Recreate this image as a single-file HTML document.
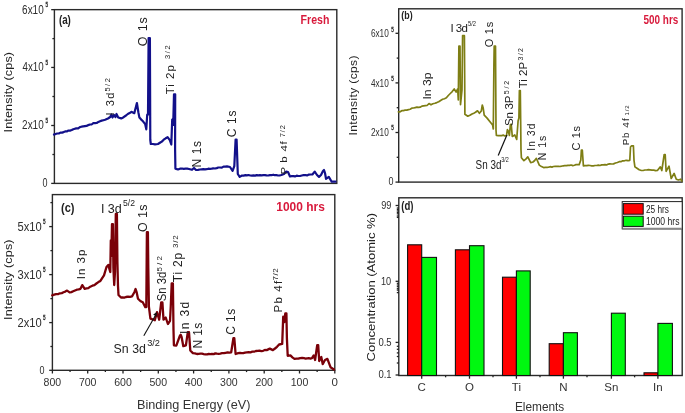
<!DOCTYPE html>
<html><head><meta charset="utf-8"><style>
html,body{margin:0;padding:0;background:#fff;width:685px;height:413px;overflow:hidden;}
svg{display:block;filter:blur(0.35px);}
text{font-family:"Liberation Sans", sans-serif;}
</style></head><body>
<svg width="685" height="413" viewBox="0 0 685 413">
<rect width="685" height="413" fill="#fff"/>
<rect x="54.40" y="9.65" width="282.40" height="173.75" fill="none" stroke="#2a2a2a" stroke-width="1.40"/>
<line x1="51.20" y1="9.65" x2="54.40" y2="9.65" stroke="#222" stroke-width="1.30"/>
<line x1="51.20" y1="67.45" x2="54.40" y2="67.45" stroke="#222" stroke-width="1.30"/>
<line x1="51.20" y1="125.50" x2="54.40" y2="125.50" stroke="#222" stroke-width="1.30"/>
<line x1="51.20" y1="183.40" x2="54.40" y2="183.40" stroke="#222" stroke-width="1.30"/>
<line x1="52.40" y1="38.60" x2="54.40" y2="38.60" stroke="#222" stroke-width="1.30"/>
<line x1="52.40" y1="96.50" x2="54.40" y2="96.50" stroke="#222" stroke-width="1.30"/>
<line x1="52.40" y1="154.50" x2="54.40" y2="154.50" stroke="#222" stroke-width="1.30"/>
<text x="22.10" y="13.60" font-size="13.00" text-anchor="start" fill="#2e2e2e" font-weight="normal" textLength="21.6" lengthAdjust="spacingAndGlyphs" >6x10</text>
<text x="45.60" y="6.90" font-size="7.00" text-anchor="start" fill="#222" font-weight="normal" textLength="2.6" lengthAdjust="spacingAndGlyphs" stroke="#222" stroke-width="0.3">5</text>
<text x="22.50" y="71.30" font-size="13.00" text-anchor="start" fill="#2e2e2e" font-weight="normal" textLength="21.2" lengthAdjust="spacingAndGlyphs" >4x10</text>
<text x="45.60" y="65.10" font-size="7.00" text-anchor="start" fill="#222" font-weight="normal" textLength="2.6" lengthAdjust="spacingAndGlyphs" stroke="#222" stroke-width="0.3">5</text>
<text x="22.10" y="129.40" font-size="13.00" text-anchor="start" fill="#2e2e2e" font-weight="normal" textLength="21.6" lengthAdjust="spacingAndGlyphs" >2x10</text>
<text x="45.60" y="123.20" font-size="7.00" text-anchor="start" fill="#222" font-weight="normal" textLength="2.6" lengthAdjust="spacingAndGlyphs" stroke="#222" stroke-width="0.3">5</text>
<text x="47.40" y="186.60" font-size="12.80" text-anchor="end" fill="#2e2e2e" font-weight="normal" textLength="5.0" lengthAdjust="spacingAndGlyphs" >0</text>
<text transform="translate(11.60 132.50) rotate(-90) scale(1 0.850)" x="0" y="0" font-size="12.50" fill="#222" textLength="80.5" lengthAdjust="spacing">Intensity (cps)</text>
<text x="58.90" y="23.50" font-size="13.00" text-anchor="start" fill="#222" font-weight="bold" textLength="12.0" lengthAdjust="spacingAndGlyphs" >(a)</text>
<text x="300.60" y="23.80" font-size="13.50" text-anchor="start" fill="#d81a3c" font-weight="bold" textLength="28.8" lengthAdjust="spacingAndGlyphs" >Fresh</text>
<path d="M54.0 134.6 L55.6 134.0 L57.2 133.5 L58.8 133.5 L60.4 132.6 L62.0 132.6 L63.6 132.1 L65.2 131.4 L66.8 131.4 L68.4 130.6 L70.0 130.6 L71.7 130.0 L73.3 129.2 L75.0 128.7 L76.6 128.4 L78.2 128.3 L79.9 127.1 L81.5 126.7 L83.2 126.4 L84.9 126.1 L86.6 125.9 L88.3 125.1 L89.9 124.5 L91.6 124.5 L93.3 123.2 L95.0 123.2 L96.7 123.0 L98.4 121.9 L100.0 121.2 L101.7 120.6 L103.4 120.2 L105.1 119.8 L108.0 118.5 L110.2 117.0 L111.5 114.5 L112.5 117.5 L114.0 115.0 L115.5 117.0 L116.5 114.0 L118.2 117.5 L121.2 118.4 L123.6 117.2 L126.0 115.5 L127.8 114.0 L129.6 113.1 L131.4 111.8 L134.3 113.2 L136.9 103.0 L138.4 112.5 L139.4 117.6 L141.2 119.6 L143.0 121.3 L145.2 124.2 L146.3 129.3 L147.2 114.7 L148.0 114.7 L148.6 38.0 L149.9 38.0 L150.3 140.0 L150.8 144.0 L152.9 144.0 L155.0 144.3 L158.0 144.0 L159.9 142.8 L161.8 141.6 L163.7 139.7 L165.7 138.3 L167.6 137.2 L169.8 140.1 L171.3 144.5 L172.2 119.6 L173.2 125.0 L174.0 94.3 L175.2 94.3 L175.1 150.0 L175.4 168.6 L178.0 169.5 L180.0 168.7 L182.0 168.5 L183.8 168.8 L185.5 168.7 L187.2 168.7 L189.0 169.0 L192.0 169.8 L194.0 168.0 L196.0 170.0 L198.0 169.8 L200.0 169.5 L201.7 169.3 L203.3 169.1 L205.0 169.4 L206.7 169.2 L208.3 168.7 L210.0 168.8 L211.7 168.7 L213.3 168.4 L215.0 168.5 L216.7 168.1 L218.3 167.5 L220.0 167.5 L221.8 167.7 L223.5 166.6 L225.2 166.6 L227.0 166.4 L230.0 167.0 L232.6 170.8 L234.3 166.2 L235.6 139.5 L236.6 139.5 L237.8 174.0 L239.7 176.9 L242.0 175.5 L243.6 175.7 L245.3 175.1 L246.9 175.4 L248.5 175.0 L250.2 175.5 L251.8 175.6 L253.5 175.4 L255.1 175.6 L256.7 175.1 L258.4 175.4 L260.0 175.2 L261.6 175.3 L263.3 175.2 L264.9 175.1 L266.6 175.4 L268.2 175.5 L269.9 175.1 L271.5 175.2 L273.2 174.7 L274.8 175.2 L276.5 175.2 L278.1 175.5 L279.8 175.3 L281.4 175.0 L284.0 174.0 L286.2 171.6 L288.0 172.0 L290.0 176.5 L291.7 176.2 L293.3 176.2 L295.0 176.4 L296.7 175.7 L298.3 176.0 L300.0 176.0 L301.8 175.5 L303.5 175.2 L305.3 175.0 L307.1 175.4 L308.9 174.6 L310.6 174.5 L312.4 174.5 L314.7 171.6 L317.0 175.0 L319.0 176.9 L321.0 175.0 L323.0 171.0 L324.0 170.0 L325.0 173.0 L326.0 178.8 L328.8 176.9 L331.7 181.7 L333.6 181.6 L335.5 181.7" fill="none" stroke="#12108a" stroke-width="2.20" stroke-linejoin="round" stroke-linecap="round" />
<text transform="translate(114.00 115.50) rotate(-90)" x="0" y="0" font-size="11.00" fill="#222" textLength="23.0" lengthAdjust="spacing">I 3d</text>
<text transform="translate(109.80 91.60) rotate(-90)" x="0" y="0" font-size="7.50" fill="#222" textLength="13.5" lengthAdjust="spacing">5/2</text>
<text transform="translate(146.50 46.20) rotate(-90)" x="0" y="0" font-size="12.50" fill="#222" textLength="29.0" lengthAdjust="spacing">O 1s</text>
<text transform="translate(174.30 94.30) rotate(-90)" x="0" y="0" font-size="11.50" fill="#222" textLength="29.2" lengthAdjust="spacing">Ti 2p</text>
<text transform="translate(169.50 59.00) rotate(-90)" x="0" y="0" font-size="7.50" fill="#222" textLength="13.8" lengthAdjust="spacing">3/2</text>
<text transform="translate(200.60 167.40) rotate(-90)" x="0" y="0" font-size="12.00" fill="#222" textLength="26.5" lengthAdjust="spacing">N 1s</text>
<text transform="translate(236.20 137.30) rotate(-90)" x="0" y="0" font-size="12.00" fill="#222" textLength="26.8" lengthAdjust="spacing">C 1s</text>
<text transform="translate(287.20 174.60) rotate(-90) scale(1 0.800)" x="0" y="0" font-size="11.50" fill="#222">P</text>
<text transform="translate(287.20 162.80) rotate(-90) scale(1 0.800)" x="0" y="0" font-size="11.50" fill="#222">b</text>
<text transform="translate(287.20 151.60) rotate(-90) scale(1 0.800)" x="0" y="0" font-size="11.50" fill="#222">4</text>
<text transform="translate(287.20 144.40) rotate(-90) scale(1 0.800)" x="0" y="0" font-size="11.50" fill="#222">f</text>
<text transform="translate(284.50 137.20) rotate(-90)" x="0" y="0" font-size="7.50" fill="#222" textLength="12.0" lengthAdjust="spacing">7/2</text>
<rect x="398.70" y="8.80" width="283.40" height="173.30" fill="none" stroke="#2a2a2a" stroke-width="1.40"/>
<line x1="395.50" y1="33.30" x2="398.70" y2="33.30" stroke="#222" stroke-width="1.30"/>
<line x1="395.50" y1="82.90" x2="398.70" y2="82.90" stroke="#222" stroke-width="1.30"/>
<line x1="395.50" y1="132.50" x2="398.70" y2="132.50" stroke="#222" stroke-width="1.30"/>
<line x1="395.50" y1="182.10" x2="398.70" y2="182.10" stroke="#222" stroke-width="1.30"/>
<line x1="396.70" y1="58.10" x2="398.70" y2="58.10" stroke="#222" stroke-width="1.30"/>
<line x1="396.70" y1="107.70" x2="398.70" y2="107.70" stroke="#222" stroke-width="1.30"/>
<line x1="396.70" y1="157.30" x2="398.70" y2="157.30" stroke="#222" stroke-width="1.30"/>
<text x="370.90" y="37.20" font-size="11.20" text-anchor="start" fill="#2e2e2e" font-weight="normal" textLength="17.9" lengthAdjust="spacingAndGlyphs" >6x10</text>
<text x="391.20" y="31.70" font-size="6.50" text-anchor="start" fill="#222" font-weight="normal" textLength="2.6" lengthAdjust="spacingAndGlyphs" stroke="#222" stroke-width="0.3">5</text>
<text x="370.90" y="86.50" font-size="11.20" text-anchor="start" fill="#2e2e2e" font-weight="normal" textLength="17.9" lengthAdjust="spacingAndGlyphs" >4x10</text>
<text x="391.20" y="81.00" font-size="6.50" text-anchor="start" fill="#222" font-weight="normal" textLength="2.6" lengthAdjust="spacingAndGlyphs" stroke="#222" stroke-width="0.3">5</text>
<text x="370.90" y="135.90" font-size="11.20" text-anchor="start" fill="#2e2e2e" font-weight="normal" textLength="17.9" lengthAdjust="spacingAndGlyphs" >2x10</text>
<text x="391.20" y="130.40" font-size="6.50" text-anchor="start" fill="#222" font-weight="normal" textLength="2.6" lengthAdjust="spacingAndGlyphs" stroke="#222" stroke-width="0.3">5</text>
<text x="393.40" y="184.50" font-size="11.50" text-anchor="end" fill="#2e2e2e" font-weight="normal" textLength="5.0" lengthAdjust="spacingAndGlyphs" >0</text>
<text transform="translate(357.40 135.50) rotate(-90) scale(1 0.850)" x="0" y="0" font-size="12.00" fill="#222" textLength="80.0" lengthAdjust="spacing">Intensity (cps)</text>
<text x="401.30" y="18.90" font-size="11.80" text-anchor="start" fill="#222" font-weight="bold" textLength="11.3" lengthAdjust="spacingAndGlyphs" >(b)</text>
<text x="643.50" y="23.90" font-size="13.00" text-anchor="start" fill="#d81a3c" font-weight="bold" textLength="34.8" lengthAdjust="spacingAndGlyphs" >500 hrs</text>
<path d="M398.4 111.9 L400.1 111.8 L401.8 110.7 L403.4 110.6 L405.1 110.2 L406.8 110.1 L408.5 109.6 L410.1 109.2 L411.8 108.2 L413.5 108.0 L415.2 107.6 L416.9 107.2 L418.6 107.4 L420.2 107.2 L421.9 106.1 L423.6 105.8 L425.3 105.6 L427.0 105.5 L429.0 103.6 L431.0 104.8 L432.9 103.8 L434.9 103.3 L436.8 102.6 L438.7 101.7 L440.6 100.5 L442.6 99.3 L444.5 98.7 L446.4 97.8 L448.3 95.5 L450.3 93.5 L452.2 91.6 L454.2 89.0 L456.1 92.0 L457.7 89.0 L458.3 100.0 L458.9 46.2 L460.0 46.2 L460.5 104.6 L462.0 90.0 L462.6 35.7 L464.4 35.7 L464.9 114.3 L467.8 116.2 L469.9 115.3 L472.0 114.0 L473.8 113.2 L475.5 112.3 L477.5 110.8 L479.4 113.3 L481.3 111.0 L482.3 105.0 L483.2 108.0 L484.2 115.2 L487.1 118.1 L491.0 123.0 L492.6 125.0 L493.3 129.0 L493.9 66.0 L494.2 46.2 L495.5 46.2 L496.0 130.0 L496.4 135.5 L498.2 135.6 L500.0 135.5 L501.6 135.7 L503.2 135.1 L504.9 135.9 L506.5 135.5 L507.4 129.7 L508.3 131.0 L509.4 135.5 L510.4 124.7 L511.2 124.2 L512.3 136.5 L514.8 135.0 L516.7 139.4 L518.1 121.0 L518.9 118.0 L519.4 90.5 L520.3 90.5 L521.0 150.0 L521.4 157.8 L523.9 160.7 L525.8 159.1 L527.8 156.9 L530.7 162.7 L533.0 162.0 L534.7 160.5 L536.4 158.3 L539.3 165.1 L541.5 166.6 L543.6 167.6 L545.3 167.4 L547.0 167.3 L548.6 167.1 L550.2 166.7 L551.9 167.1 L553.5 166.5 L555.1 166.4 L556.8 166.4 L558.4 166.3 L560.0 166.5 L561.6 166.2 L563.2 165.8 L564.8 165.6 L566.4 165.6 L568.0 165.3 L569.6 165.4 L571.2 165.0 L572.8 165.6 L574.4 165.2 L576.0 164.6 L577.6 164.5 L579.2 164.6 L580.8 160.0 L581.4 150.0 L582.3 150.0 L583.4 165.9 L585.0 165.7 L586.7 165.6 L588.4 165.3 L590.0 165.5 L591.7 165.8 L593.3 165.9 L595.0 165.5 L596.7 165.5 L598.3 165.1 L600.0 165.5 L601.7 164.9 L603.3 164.9 L605.0 164.6 L606.6 164.9 L608.3 164.1 L609.9 163.8 L611.6 164.0 L613.5 163.9 L615.5 163.0 L617.4 162.5 L619.2 161.7 L620.9 161.7 L622.7 160.8 L624.4 160.8 L626.2 160.3 L628.0 160.7 L629.8 160.3 L630.5 147.0 L631.6 145.8 L633.4 145.8 L634.0 160.3 L634.9 166.9 L637.0 168.3 L639.2 169.7 L641.4 170.5 L643.1 170.5 L644.9 170.0 L646.6 170.0 L648.4 169.6 L650.1 169.8 L651.9 170.2 L653.8 170.2 L655.6 170.6 L657.4 170.5 L660.3 166.9 L661.8 170.5 L664.2 154.5 L665.2 154.5 L666.1 171.3 L669.0 166.2 L671.2 178.5 L674.1 173.4 L676.3 179.2 L678.5 180.0 L680.7 179.2 L681.8 181.0" fill="none" stroke="#7e7e14" stroke-width="1.70" stroke-linejoin="round" stroke-linecap="round" />
<text x="450.5" y="32.4" font-size="11.5" fill="#222" textLength="17.5" lengthAdjust="spacing">I 3d</text>
<text x="468.00" y="26.00" font-size="7.00" text-anchor="start" fill="#222" font-weight="normal" textLength="8.0" lengthAdjust="spacingAndGlyphs" >5/2</text>
<text transform="translate(493.40 47.30) rotate(-90)" x="0" y="0" font-size="11.00" fill="#222" textLength="25.5" lengthAdjust="spacing">O 1s</text>
<text transform="translate(431.00 99.50) rotate(-90)" x="0" y="0" font-size="11.80" fill="#222" textLength="27.0" lengthAdjust="spacingAndGlyphs">In 3p</text>
<text transform="translate(513.20 126.00) rotate(-90)" x="0" y="0" font-size="11.50" fill="#222" textLength="30.5" lengthAdjust="spacing">Sn 3P</text>
<text transform="translate(509.30 94.30) rotate(-90)" x="0" y="0" font-size="7.00" fill="#222" textLength="13.5" lengthAdjust="spacing">5/2</text>
<text transform="translate(526.70 88.30) rotate(-90)" x="0" y="0" font-size="11.50" fill="#222" textLength="26.5" lengthAdjust="spacing">Ti 2P</text>
<text transform="translate(523.30 60.50) rotate(-90)" x="0" y="0" font-size="7.00" fill="#222" textLength="12.5" lengthAdjust="spacing">3/2</text>
<text transform="translate(534.80 150.80) rotate(-90)" x="0" y="0" font-size="10.00" fill="#222" textLength="27.0" lengthAdjust="spacing">In 3d</text>
<text transform="translate(545.50 160.30) rotate(-90)" x="0" y="0" font-size="10.50" fill="#222" textLength="24.5" lengthAdjust="spacing">N 1s</text>
<text transform="translate(580.30 150.50) rotate(-90)" x="0" y="0" font-size="11.00" fill="#222" textLength="24.5" lengthAdjust="spacing">C 1s</text>
<text transform="translate(628.80 145.30) rotate(-90)" x="0" y="0" font-size="9.80" fill="#222">P</text>
<text transform="translate(628.80 138.00) rotate(-90)" x="0" y="0" font-size="9.80" fill="#222">b</text>
<text transform="translate(628.80 127.70) rotate(-90)" x="0" y="0" font-size="9.80" fill="#222">4</text>
<text transform="translate(628.80 121.10) rotate(-90)" x="0" y="0" font-size="9.80" fill="#222">f</text>
<text transform="translate(628.50 115.40) rotate(-90)" x="0" y="0" font-size="6.00" fill="#222" textLength="10.0" lengthAdjust="spacing">1/2</text>
<text x="475.60" y="168.50" font-size="12.50" text-anchor="start" fill="#222" font-weight="normal" textLength="25.8" lengthAdjust="spacingAndGlyphs" >Sn 3d</text>
<text x="501.30" y="161.50" font-size="7.50" text-anchor="start" fill="#222" font-weight="normal" textLength="7.5" lengthAdjust="spacingAndGlyphs" >3/2</text>
<line x1="498.20" y1="155.60" x2="506.90" y2="134.90" stroke="#111" stroke-width="1.20"/>
<rect x="52.40" y="194.60" width="282.40" height="175.70" fill="none" stroke="#2a2a2a" stroke-width="1.40"/>
<line x1="49.20" y1="226.60" x2="52.40" y2="226.60" stroke="#222" stroke-width="1.30"/>
<line x1="49.20" y1="274.60" x2="52.40" y2="274.60" stroke="#222" stroke-width="1.30"/>
<line x1="49.20" y1="322.60" x2="52.40" y2="322.60" stroke="#222" stroke-width="1.30"/>
<line x1="49.20" y1="370.30" x2="52.40" y2="370.30" stroke="#222" stroke-width="1.30"/>
<line x1="50.40" y1="202.60" x2="52.40" y2="202.60" stroke="#222" stroke-width="1.30"/>
<line x1="50.40" y1="250.60" x2="52.40" y2="250.60" stroke="#222" stroke-width="1.30"/>
<line x1="50.40" y1="298.60" x2="52.40" y2="298.60" stroke="#222" stroke-width="1.30"/>
<line x1="50.40" y1="346.50" x2="52.40" y2="346.50" stroke="#222" stroke-width="1.30"/>
<text x="17.50" y="230.50" font-size="12.50" text-anchor="start" fill="#2e2e2e" font-weight="normal" textLength="24.2" lengthAdjust="spacingAndGlyphs" >5x10</text>
<text x="43.00" y="224.00" font-size="7.00" text-anchor="start" fill="#222" font-weight="normal" textLength="2.6" lengthAdjust="spacingAndGlyphs" stroke="#222" stroke-width="0.3">5</text>
<text x="17.50" y="278.50" font-size="12.50" text-anchor="start" fill="#2e2e2e" font-weight="normal" textLength="24.2" lengthAdjust="spacingAndGlyphs" >3x10</text>
<text x="43.00" y="272.00" font-size="7.00" text-anchor="start" fill="#222" font-weight="normal" textLength="2.6" lengthAdjust="spacingAndGlyphs" stroke="#222" stroke-width="0.3">5</text>
<text x="17.50" y="326.50" font-size="12.50" text-anchor="start" fill="#2e2e2e" font-weight="normal" textLength="24.2" lengthAdjust="spacingAndGlyphs" >2x10</text>
<text x="43.00" y="320.00" font-size="7.00" text-anchor="start" fill="#222" font-weight="normal" textLength="2.6" lengthAdjust="spacingAndGlyphs" stroke="#222" stroke-width="0.3">5</text>
<text x="44.50" y="373.50" font-size="11.80" text-anchor="end" fill="#2e2e2e" font-weight="normal" textLength="5.0" lengthAdjust="spacingAndGlyphs" >0</text>
<text transform="translate(11.60 320.00) rotate(-90) scale(1 0.850)" x="0" y="0" font-size="12.50" fill="#222" textLength="80.5" lengthAdjust="spacing">Intensity (cps)</text>
<text x="61.00" y="211.90" font-size="12.50" text-anchor="start" fill="#222" font-weight="bold" textLength="13.5" lengthAdjust="spacingAndGlyphs" >(c)</text>
<text x="276.30" y="211.00" font-size="13.00" text-anchor="start" fill="#d81a3c" font-weight="bold" textLength="48.5" lengthAdjust="spacingAndGlyphs" >1000 hrs</text>
<line x1="52.40" y1="370.30" x2="52.40" y2="373.50" stroke="#222" stroke-width="1.30"/>
<text x="52.40" y="385.50" font-size="11.50" text-anchor="middle" fill="#333" font-weight="normal" textLength="17.6" lengthAdjust="spacingAndGlyphs" >800</text>
<line x1="87.70" y1="370.30" x2="87.70" y2="373.50" stroke="#222" stroke-width="1.30"/>
<text x="87.70" y="385.50" font-size="11.50" text-anchor="middle" fill="#333" font-weight="normal" textLength="17.6" lengthAdjust="spacingAndGlyphs" >700</text>
<line x1="123.00" y1="370.30" x2="123.00" y2="373.50" stroke="#222" stroke-width="1.30"/>
<text x="123.00" y="385.50" font-size="11.50" text-anchor="middle" fill="#333" font-weight="normal" textLength="17.6" lengthAdjust="spacingAndGlyphs" >600</text>
<line x1="158.30" y1="370.30" x2="158.30" y2="373.50" stroke="#222" stroke-width="1.30"/>
<text x="158.30" y="385.50" font-size="11.50" text-anchor="middle" fill="#333" font-weight="normal" textLength="17.6" lengthAdjust="spacingAndGlyphs" >500</text>
<line x1="193.60" y1="370.30" x2="193.60" y2="373.50" stroke="#222" stroke-width="1.30"/>
<text x="193.60" y="385.50" font-size="11.50" text-anchor="middle" fill="#333" font-weight="normal" textLength="17.6" lengthAdjust="spacingAndGlyphs" >400</text>
<line x1="228.90" y1="370.30" x2="228.90" y2="373.50" stroke="#222" stroke-width="1.30"/>
<text x="228.90" y="385.50" font-size="11.50" text-anchor="middle" fill="#333" font-weight="normal" textLength="17.6" lengthAdjust="spacingAndGlyphs" >300</text>
<line x1="264.20" y1="370.30" x2="264.20" y2="373.50" stroke="#222" stroke-width="1.30"/>
<text x="264.20" y="385.50" font-size="11.50" text-anchor="middle" fill="#333" font-weight="normal" textLength="17.6" lengthAdjust="spacingAndGlyphs" >200</text>
<line x1="299.50" y1="370.30" x2="299.50" y2="373.50" stroke="#222" stroke-width="1.30"/>
<text x="299.50" y="385.50" font-size="11.50" text-anchor="middle" fill="#333" font-weight="normal" textLength="17.6" lengthAdjust="spacingAndGlyphs" >100</text>
<line x1="334.80" y1="370.30" x2="334.80" y2="373.50" stroke="#222" stroke-width="1.30"/>
<text x="334.80" y="385.50" font-size="11.50" text-anchor="middle" fill="#333" font-weight="normal" >0</text>
<line x1="70.05" y1="370.30" x2="70.05" y2="372.10" stroke="#222" stroke-width="1.30"/>
<line x1="105.35" y1="370.30" x2="105.35" y2="372.10" stroke="#222" stroke-width="1.30"/>
<line x1="140.65" y1="370.30" x2="140.65" y2="372.10" stroke="#222" stroke-width="1.30"/>
<line x1="175.95" y1="370.30" x2="175.95" y2="372.10" stroke="#222" stroke-width="1.30"/>
<line x1="211.25" y1="370.30" x2="211.25" y2="372.10" stroke="#222" stroke-width="1.30"/>
<line x1="246.55" y1="370.30" x2="246.55" y2="372.10" stroke="#222" stroke-width="1.30"/>
<line x1="281.85" y1="370.30" x2="281.85" y2="372.10" stroke="#222" stroke-width="1.30"/>
<line x1="317.15" y1="370.30" x2="317.15" y2="372.10" stroke="#222" stroke-width="1.30"/>
<text x="137.00" y="408.60" font-size="13.60" text-anchor="start" fill="#333" font-weight="normal" textLength="113.5" lengthAdjust="spacingAndGlyphs" >Binding Energy (eV)</text>
<path d="M52.2 295.4 L54.2 294.7 L56.1 294.1 L58.0 294.1 L60.0 293.3 L61.8 293.1 L63.5 292.3 L65.3 291.6 L67.1 290.6 L69.6 292.4 L71.4 292.1 L73.2 291.3 L75.0 290.5 L76.8 289.7 L78.7 289.4 L80.5 288.8 L82.3 285.1 L84.7 288.8 L86.5 288.4 L88.3 288.2 L90.3 286.7 L92.4 285.7 L94.4 285.1 L96.4 283.5 L98.4 282.1 L100.4 280.9 L104.0 275.4 L106.5 267.0 L108.3 264.9 L109.8 270.4 L110.3 272.0 L110.8 240.4 L111.3 256.0 L112.0 224.1 L112.9 224.1 L113.4 268.0 L114.2 285.0 L115.0 272.0 L115.8 214.0 L116.9 214.0 L117.4 262.0 L118.0 286.0 L118.5 295.0 L121.0 297.5 L122.7 297.5 L124.3 297.6 L126.0 297.0 L128.0 296.7 L130.0 296.9 L132.0 296.3 L134.5 292.0 L135.6 289.0 L136.6 292.0 L138.0 298.7 L139.6 300.3 L141.2 301.5 L142.8 302.3 L145.3 307.2 L146.3 307.0 L146.9 232.2 L147.9 232.2 L148.3 268.0 L148.9 306.6 L150.4 318.6 L152.6 319.3 L154.8 320.2 L157.0 312.1 L159.2 319.7 L161.2 302.3 L162.4 302.3 L163.5 319.7 L165.7 317.5 L167.9 324.0 L170.0 320.8 L170.7 307.7 L171.7 283.4 L172.9 283.4 L173.5 330.0 L173.9 345.3 L176.3 345.6 L179.8 336.0 L180.7 334.8 L181.6 337.0 L183.3 346.2 L185.9 345.3 L187.8 332.2 L189.0 332.2 L190.3 350.5 L192.9 353.1 L194.9 353.3 L197.0 354.0 L198.7 353.8 L200.3 353.7 L202.0 353.7 L203.7 354.1 L205.3 354.4 L207.0 354.3 L208.7 354.0 L210.3 354.1 L212.0 354.0 L213.7 354.1 L215.3 353.4 L217.0 353.7 L218.7 353.8 L220.3 353.6 L222.0 353.2 L223.8 353.2 L225.7 352.8 L227.5 352.4 L229.4 352.7 L231.2 352.3 L233.4 338.2 L234.3 338.2 L235.6 354.0 L238.2 353.1 L239.9 352.8 L241.6 353.1 L243.3 353.1 L245.0 352.6 L246.8 352.3 L248.7 352.1 L250.5 352.3 L252.3 351.7 L254.1 351.7 L255.9 351.0 L257.7 350.8 L259.5 350.6 L261.3 351.1 L263.1 350.8 L264.9 350.0 L266.7 350.1 L269.8 348.6 L272.9 350.1 L275.0 348.5 L277.0 346.8 L279.1 344.5 L282.2 343.9 L283.2 316.7 L284.3 322.0 L285.3 313.3 L286.4 313.3 L286.9 338.4 L287.7 355.8 L290.4 355.4 L292.4 357.3 L294.5 358.9 L296.4 358.6 L298.3 358.7 L300.2 358.1 L302.1 357.9 L304.0 358.2 L305.6 358.6 L307.2 358.3 L308.8 358.2 L310.4 358.6 L312.0 358.2 L313.7 355.4 L315.1 360.0 L317.2 345.1 L318.2 345.1 L319.2 361.0 L321.3 356.9 L322.7 364.1 L325.0 360.0 L327.4 358.9 L330.5 367.2 L333.6 369.2 L334.0 369.5" fill="none" stroke="#7a0008" stroke-width="2.30" stroke-linejoin="round" stroke-linecap="round" />
<text transform="translate(85.00 279.20) rotate(-90)" x="0" y="0" font-size="11.50" fill="#222" textLength="29.5" lengthAdjust="spacing">In 3p</text>
<text x="100.9" y="212.6" font-size="12.5" fill="#222" textLength="20.7" lengthAdjust="spacing">I 3d</text>
<text x="123.00" y="205.60" font-size="8.50" text-anchor="start" fill="#222" font-weight="normal" textLength="12.0" lengthAdjust="spacingAndGlyphs" >5/2</text>
<text transform="translate(147.00 232.00) rotate(-90)" x="0" y="0" font-size="12.50" fill="#222" textLength="27.5" lengthAdjust="spacing">O 1s</text>
<text transform="translate(166.30 301.20) rotate(-90)" x="0" y="0" font-size="12.30" fill="#222" textLength="29.5" lengthAdjust="spacingAndGlyphs">Sn 3d</text>
<text transform="translate(161.60 271.60) rotate(-90)" x="0" y="0" font-size="8.00" fill="#222" textLength="15.5" lengthAdjust="spacing">5/2</text>
<text transform="translate(182.00 282.30) rotate(-90)" x="0" y="0" font-size="12.00" fill="#222" textLength="29.5" lengthAdjust="spacing">Ti 2p</text>
<text transform="translate(177.80 248.00) rotate(-90)" x="0" y="0" font-size="8.00" fill="#222" textLength="12.8" lengthAdjust="spacing">3/2</text>
<text transform="translate(189.00 334.00) rotate(-90)" x="0" y="0" font-size="12.00" fill="#222" textLength="32.3" lengthAdjust="spacing">In 3d</text>
<text transform="translate(202.00 348.50) rotate(-90)" x="0" y="0" font-size="12.00" fill="#222" textLength="25.8" lengthAdjust="spacing">N 1s</text>
<text transform="translate(235.20 334.80) rotate(-90)" x="0" y="0" font-size="12.00" fill="#222" textLength="26.0" lengthAdjust="spacing">C 1s</text>
<text transform="translate(282.00 312.40) rotate(-90)" x="0" y="0" font-size="11.50" fill="#222" textLength="31.5" lengthAdjust="spacing">Pb 4f</text>
<text transform="translate(278.20 280.60) rotate(-90)" x="0" y="0" font-size="8.00" fill="#222" textLength="12.3" lengthAdjust="spacing">7/2</text>
<text x="113.60" y="352.50" font-size="13.00" text-anchor="start" fill="#222" font-weight="normal" textLength="32.3" lengthAdjust="spacingAndGlyphs" >Sn 3d</text>
<text x="147.20" y="345.80" font-size="9.00" text-anchor="start" fill="#222" font-weight="normal" textLength="12.8" lengthAdjust="spacingAndGlyphs" >3/2</text>
<line x1="143.80" y1="335.70" x2="156.00" y2="314.50" stroke="#111" stroke-width="1.10"/>
<path d="M157 312 L153.2 314.6 L156.4 316.6 Z" fill="#111"/>
<rect x="398.80" y="197.80" width="283.40" height="177.70" fill="none" stroke="#2a2a2a" stroke-width="1.40"/>
<line x1="395.60" y1="205.50" x2="398.80" y2="205.50" stroke="#222" stroke-width="1.30"/>
<line x1="395.60" y1="281.30" x2="398.80" y2="281.30" stroke="#222" stroke-width="1.30"/>
<line x1="395.60" y1="342.40" x2="398.80" y2="342.40" stroke="#222" stroke-width="1.30"/>
<line x1="395.60" y1="375.00" x2="398.80" y2="375.00" stroke="#222" stroke-width="1.30"/>
<line x1="396.80" y1="208.00" x2="398.80" y2="208.00" stroke="#222" stroke-width="1.30"/>
<line x1="396.80" y1="209.40" x2="398.80" y2="209.40" stroke="#222" stroke-width="1.30"/>
<line x1="396.80" y1="210.90" x2="398.80" y2="210.90" stroke="#222" stroke-width="1.30"/>
<line x1="396.80" y1="212.40" x2="398.80" y2="212.40" stroke="#222" stroke-width="1.30"/>
<line x1="396.80" y1="213.80" x2="398.80" y2="213.80" stroke="#222" stroke-width="1.30"/>
<line x1="396.80" y1="216.00" x2="398.80" y2="216.00" stroke="#222" stroke-width="1.30"/>
<line x1="396.80" y1="217.40" x2="398.80" y2="217.40" stroke="#222" stroke-width="1.30"/>
<line x1="396.80" y1="283.30" x2="398.80" y2="283.30" stroke="#222" stroke-width="1.30"/>
<line x1="396.80" y1="285.00" x2="398.80" y2="285.00" stroke="#222" stroke-width="1.30"/>
<line x1="396.80" y1="286.70" x2="398.80" y2="286.70" stroke="#222" stroke-width="1.30"/>
<line x1="396.80" y1="288.70" x2="398.80" y2="288.70" stroke="#222" stroke-width="1.30"/>
<line x1="396.80" y1="290.10" x2="398.80" y2="290.10" stroke="#222" stroke-width="1.30"/>
<line x1="396.80" y1="292.60" x2="398.80" y2="292.60" stroke="#222" stroke-width="1.30"/>
<line x1="396.80" y1="346.30" x2="398.80" y2="346.30" stroke="#222" stroke-width="1.30"/>
<line x1="396.80" y1="349.30" x2="398.80" y2="349.30" stroke="#222" stroke-width="1.30"/>
<line x1="396.80" y1="352.90" x2="398.80" y2="352.90" stroke="#222" stroke-width="1.30"/>
<line x1="396.80" y1="356.50" x2="398.80" y2="356.50" stroke="#222" stroke-width="1.30"/>
<line x1="396.80" y1="363.00" x2="398.80" y2="363.00" stroke="#222" stroke-width="1.30"/>
<text x="391.40" y="208.80" font-size="11.50" text-anchor="end" fill="#2e2e2e" font-weight="normal" textLength="10.2" lengthAdjust="spacingAndGlyphs" >99</text>
<text x="391.20" y="284.70" font-size="11.50" text-anchor="end" fill="#2e2e2e" font-weight="normal" textLength="10.2" lengthAdjust="spacingAndGlyphs" >10</text>
<text x="391.60" y="345.80" font-size="11.50" text-anchor="end" fill="#2e2e2e" font-weight="normal" textLength="13.2" lengthAdjust="spacingAndGlyphs" >0.5</text>
<text x="391.60" y="377.70" font-size="11.50" text-anchor="end" fill="#2e2e2e" font-weight="normal" textLength="13.2" lengthAdjust="spacingAndGlyphs" >0.1</text>
<text transform="translate(374.80 361.50) rotate(-90) scale(1 0.860)" x="0" y="0" font-size="12.50" fill="#222" textLength="148.5" lengthAdjust="spacingAndGlyphs">Concentration (Atomic %)</text>
<text x="401.30" y="210.30" font-size="12.00" text-anchor="start" fill="#222" font-weight="bold" textLength="12.2" lengthAdjust="spacingAndGlyphs" >(d)</text>
<rect x="407.60" y="244.80" width="14.10" height="130.70" fill="#ff0000" stroke="#111" stroke-width="1.1"/>
<rect x="421.70" y="257.40" width="14.80" height="118.10" fill="#00f810" stroke="#111" stroke-width="1.1"/>
<rect x="455.40" y="249.80" width="14.10" height="125.70" fill="#ff0000" stroke="#111" stroke-width="1.1"/>
<rect x="469.50" y="245.70" width="14.50" height="129.80" fill="#00f810" stroke="#111" stroke-width="1.1"/>
<rect x="502.50" y="277.20" width="13.90" height="98.30" fill="#ff0000" stroke="#111" stroke-width="1.1"/>
<rect x="516.40" y="270.90" width="13.80" height="104.60" fill="#00f810" stroke="#111" stroke-width="1.1"/>
<rect x="549.20" y="343.70" width="14.20" height="31.80" fill="#ff0000" stroke="#111" stroke-width="1.1"/>
<rect x="563.40" y="332.70" width="14.00" height="42.80" fill="#00f810" stroke="#111" stroke-width="1.1"/>
<rect x="611.40" y="313.20" width="13.90" height="62.30" fill="#00f810" stroke="#111" stroke-width="1.1"/>
<rect x="644.00" y="372.80" width="13.90" height="2.70" fill="#ff0000" stroke="#111" stroke-width="1.1"/>
<rect x="657.90" y="323.40" width="14.50" height="52.10" fill="#00f810" stroke="#111" stroke-width="1.1"/>
<line x1="421.70" y1="375.50" x2="421.70" y2="378.70" stroke="#222" stroke-width="1.30"/>
<text x="421.70" y="390.80" font-size="11.50" text-anchor="middle" fill="#333" font-weight="normal" >C</text>
<line x1="469.50" y1="375.50" x2="469.50" y2="378.70" stroke="#222" stroke-width="1.30"/>
<text x="469.50" y="390.80" font-size="11.50" text-anchor="middle" fill="#333" font-weight="normal" >O</text>
<line x1="516.40" y1="375.50" x2="516.40" y2="378.70" stroke="#222" stroke-width="1.30"/>
<text x="516.40" y="390.80" font-size="11.50" text-anchor="middle" fill="#333" font-weight="normal" >Ti</text>
<line x1="563.40" y1="375.50" x2="563.40" y2="378.70" stroke="#222" stroke-width="1.30"/>
<text x="563.40" y="390.80" font-size="11.50" text-anchor="middle" fill="#333" font-weight="normal" >N</text>
<line x1="611.40" y1="375.50" x2="611.40" y2="378.70" stroke="#222" stroke-width="1.30"/>
<text x="611.40" y="390.80" font-size="11.50" text-anchor="middle" fill="#333" font-weight="normal" >Sn</text>
<line x1="657.90" y1="375.50" x2="657.90" y2="378.70" stroke="#222" stroke-width="1.30"/>
<text x="657.90" y="390.80" font-size="11.50" text-anchor="middle" fill="#333" font-weight="normal" >In</text>
<line x1="445.60" y1="375.50" x2="445.60" y2="377.30" stroke="#222" stroke-width="1.30"/>
<line x1="493.00" y1="375.50" x2="493.00" y2="377.30" stroke="#222" stroke-width="1.30"/>
<line x1="540.00" y1="375.50" x2="540.00" y2="377.30" stroke="#222" stroke-width="1.30"/>
<line x1="587.00" y1="375.50" x2="587.00" y2="377.30" stroke="#222" stroke-width="1.30"/>
<line x1="634.60" y1="375.50" x2="634.60" y2="377.30" stroke="#222" stroke-width="1.30"/>
<text x="514.90" y="410.80" font-size="13.00" text-anchor="start" fill="#333" font-weight="normal" textLength="49.4" lengthAdjust="spacingAndGlyphs" >Elements</text>
<rect x="622.2" y="201.6" width="60" height="27.3" fill="#fff" stroke="#222" stroke-width="1"/>
<line x1="622.5" y1="228.6" x2="682" y2="228.6" stroke="#888" stroke-width="1.6"/>
<rect x="623.4" y="203.6" width="19.8" height="10.6" fill="#ff0000" stroke="#111" stroke-width="1"/>
<rect x="623.4" y="216.2" width="19.8" height="10.2" fill="#00f810" stroke="#111" stroke-width="1"/>
<text x="646.00" y="212.60" font-size="10.00" text-anchor="start" fill="#222" font-weight="normal" textLength="23.0" lengthAdjust="spacingAndGlyphs" >25 hrs</text>
<text x="646.00" y="224.80" font-size="10.00" text-anchor="start" fill="#222" font-weight="normal" textLength="33.5" lengthAdjust="spacingAndGlyphs" >1000 hrs</text>
</svg>
</body></html>
